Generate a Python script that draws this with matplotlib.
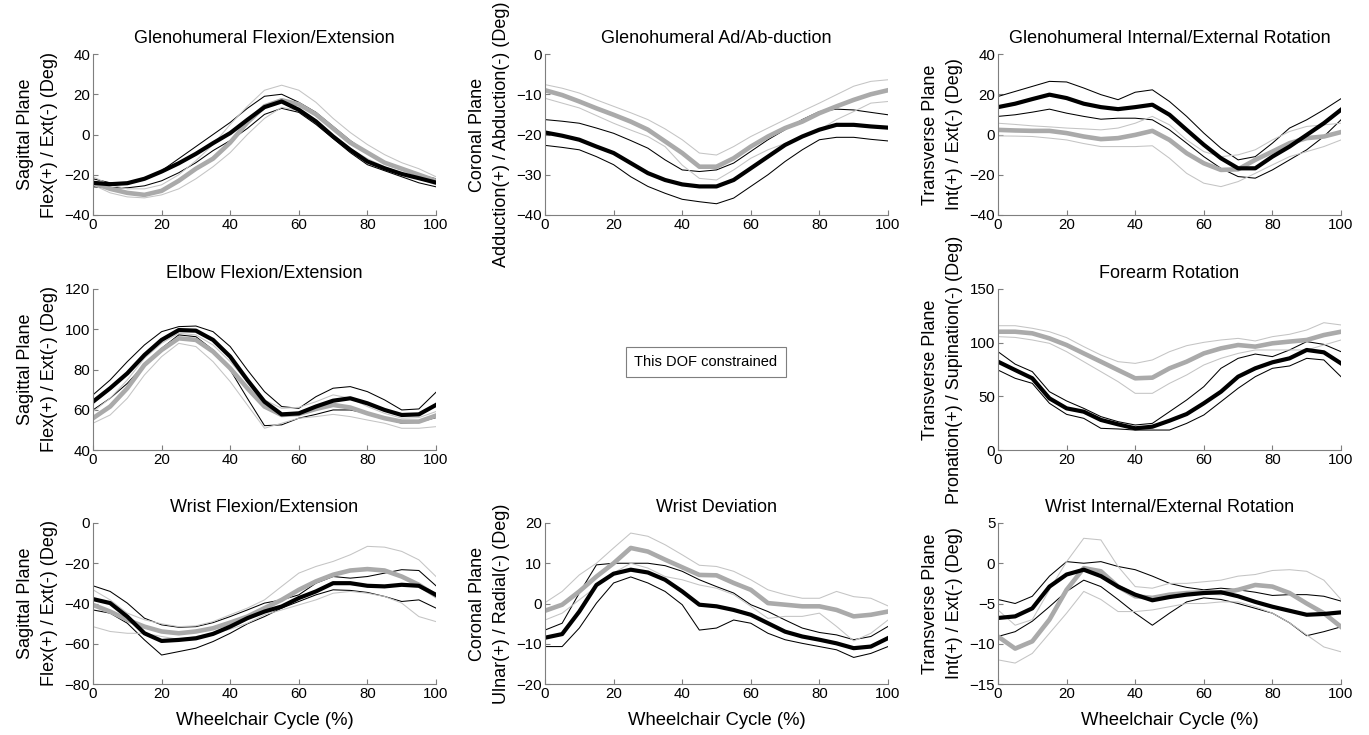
import numpy as np
import matplotlib
matplotlib.use("Agg")
import matplotlib.pyplot as plt

plt.rcParams['font.family'] = ['Liberation Sans', 'DejaVu Sans']

# percent of wheelchair cycle (sample grid)
cycle = [0, 5, 10, 15, 20, 25, 30, 35, 40, 45, 50, 55, 60, 65, 70, 75, 80, 85, 90, 95, 100]

# ---- Glenohumeral Flexion/Extension ----
ghfe_b = [-24, -24.7, -24.2, -22, -18.4, -14.3, -9.6, -4.3, 0.7, 7.3, 13.6, 16.4, 12.3, 6.5, -1, -7.6, -13.4, -16.8, -19.6, -21.7, -23.9]
ghfe_b_hi = [-22, -24, -24, -22, -18, -12, -6, 0, 6, 13, 19, 20, 16, 11, 4, -3, -9, -14, -17, -20, -22]
ghfe_b_lo = [-26, -26.5, -26.5, -25.5, -23, -19, -14, -8, -3, 3, 10, 13, 11, 5, -2, -9, -15, -18, -21, -24, -26]
ghfe_g = [-24, -27, -29, -30, -28, -23, -17, -12, -4, 6, 14, 17, 15, 10, 3, -4, -9, -14, -17, -20, -23]
ghfe_g_hi = [-21, -25, -27, -27, -25, -20, -13, -5, 5, 14, 22, 24.5, 22, 16, 8, 1, -5, -10, -14, -17, -21]
ghfe_g_lo = [-25, -29, -31, -31.5, -30, -27, -22, -16, -9, 0, 8, 13.5, 12, 7, 0, -7, -12, -16, -19, -22, -25]

# ---- Glenohumeral Ad/Ab-duction ----
ghaa_b = [-19.5, -20.3, -21.3, -23, -24.6, -27.1, -29.6, -31.3, -32.4, -32.9, -32.9, -31.3, -28.4, -25.5, -22.6, -20.5, -18.8, -17.6, -17.6, -18, -18.3]
ghaa_b_hi = [-16.3, -16.7, -17.2, -18.4, -19.7, -21.5, -23.4, -26.3, -28.8, -29.2, -28.8, -27.1, -24.2, -21.3, -18.8, -16.3, -14.3, -13.7, -13.9, -14.5, -15.1]
ghaa_b_lo = [-22.7, -23.2, -23.8, -25.5, -27.5, -30.5, -32.9, -34.6, -36.1, -36.7, -37.2, -35.8, -32.9, -30, -26.7, -23.8, -21.3, -20.7, -20.7, -21.2, -21.6]
ghaa_g = [-9, -10.2, -11.8, -13.5, -15.1, -16.8, -18.8, -21.7, -24.6, -28, -28, -25.9, -23, -20.5, -18.4, -16.8, -14.7, -13, -11.4, -10, -9]
ghaa_g_hi = [-7.6, -8.5, -9.7, -11.4, -13, -14.6, -16.3, -18.6, -21.3, -24.6, -25.1, -23, -20.5, -18.4, -16.3, -14.2, -12.2, -10.1, -8, -6.8, -6.4]
ghaa_g_lo = [-11, -12.2, -13.4, -15.3, -17.2, -18.9, -20.5, -23, -27.6, -30.9, -31.3, -28.8, -25.9, -23.8, -22.2, -20.5, -18.8, -16.3, -14.3, -12.2, -11.8]

# ---- Glenohumeral Internal/External Rotation ----
ghie_b = [13.6, 15.3, 17.6, 19.8, 18.1, 15.3, 13.6, 12.6, 13.6, 14.8, 9.8, 2.3, -5.1, -11.8, -16.8, -16.8, -11, -6, -0.2, 5.6, 12.3]
ghie_b_hi = [18.9, 21.4, 23.9, 26.4, 26.1, 23.1, 19.8, 17.3, 21, 22.2, 16.4, 9, 0.7, -6.8, -12.6, -11, -4.3, 3.2, 7.3, 12.3, 17.8]
ghie_b_lo = [9, 9.8, 11.1, 12.6, 10.6, 9, 7.6, 8.1, 8.1, 7.3, 2.3, -4.3, -11, -16.8, -20.9, -21.7, -17.6, -12.6, -7.6, -1, 7.3]
ghie_g = [2.3, 2, 1.8, 1.8, 0.7, -1, -2.3, -1.8, -0.2, 1.8, -2.7, -9.3, -14.3, -17.6, -17.3, -12.6, -8.5, -4.3, -1.8, -1, 1.2]
ghie_g_hi = [5.6, 5, 4.3, 3.8, 3.2, 2.8, 2.3, 3.2, 5.6, 9, 4.8, -2.7, -8.5, -11, -10.1, -7.6, -2.7, 1.5, 4, 4.8, 5.6]
ghie_g_lo = [-0.7, -0.8, -1, -1.8, -2.7, -4.5, -6, -6, -6, -5.6, -11.8, -19.3, -24.2, -25.9, -23.4, -19.3, -15.1, -11, -8.5, -6, -2.7]

# ---- Elbow Flexion/Extension ----
elb_b = [64, 70.7, 78.1, 87.2, 94.7, 99.6, 99.3, 94.7, 86.4, 74.8, 64, 57.7, 58.2, 61.6, 64.5, 65.7, 63.2, 59.9, 57.4, 57.7, 62.4]
elb_b_hi = [67.4, 74.8, 83.9, 92.2, 98.8, 101.3, 101.6, 98.8, 91.4, 79.8, 69, 61.6, 60.7, 66.5, 70.7, 71.5, 69, 64.9, 59.9, 60.4, 68.7]
elb_b_lo = [59.9, 65.7, 73.1, 82.3, 90.5, 97.2, 96.3, 89.7, 79.8, 65.7, 52.1, 52.5, 55.8, 57.7, 59.9, 59.9, 58.2, 55.8, 53.3, 53.8, 56.1]
elb_g = [55.8, 61.6, 70.7, 82.3, 89.7, 95.5, 94.7, 88.9, 80.6, 70.7, 61.6, 57.4, 57.9, 60.4, 62.4, 61.1, 58.2, 55.8, 54.1, 54.1, 57.1]
elb_g_hi = [59.1, 65.7, 74.8, 85.6, 93, 98, 97.2, 92.2, 83.9, 74, 64.9, 60.7, 61.2, 64, 67.4, 65.7, 61.6, 58.2, 55.8, 56.1, 59.1]
elb_g_lo = [53.3, 57.4, 65.7, 77.3, 86.4, 93, 91.4, 83.9, 74, 62.4, 50.8, 53.3, 55.8, 56.6, 57.7, 56.6, 54.9, 53.3, 50.8, 50.8, 51.6]

# ---- Forearm Rotation ----
fr_b = [82.3, 74.5, 66.8, 48.1, 38.8, 35.7, 28, 23.9, 20.2, 21.7, 27.3, 33.5, 43.5, 54.3, 68.3, 76.1, 81.7, 85.4, 93.2, 91, 80.7]
fr_b_hi = [91.6, 80, 73, 54.3, 45.7, 38.8, 31.1, 26.4, 23.3, 24.8, 35.7, 46.6, 59, 76.1, 85.4, 89.4, 87, 93.2, 101, 98.4, 91.6]
fr_b_lo = [74.5, 66.8, 62.1, 43.5, 33.2, 29.5, 20.2, 19.6, 18.6, 18.6, 18.6, 24.8, 32.6, 45, 57.5, 68.3, 76.1, 78.3, 85.4, 83.9, 68.3]
fr_g = [110.2, 110.2, 108.7, 104, 97.8, 90, 82.3, 74.5, 66.8, 67.4, 76.1, 82.3, 90, 94.7, 97.8, 96.3, 99.4, 101, 102.5, 107.1, 110.2]
fr_g_hi = [115.8, 115.8, 113.4, 110.2, 104.7, 96.3, 88.5, 82.3, 80.7, 83.9, 91.6, 97.2, 100.3, 102.5, 104, 101.6, 105.6, 107.8, 111.8, 118.6, 116.5]
fr_g_lo = [105.6, 104.9, 102.5, 99.4, 91.6, 82.3, 73, 63.7, 52.8, 52.8, 62.1, 69.9, 79.2, 85.4, 90, 93.2, 93.2, 93.2, 93.2, 97.8, 102.5]

# ---- Wrist Flexion/Extension ----
wfe_b = [-37.8, -39.8, -46.5, -54.8, -58.6, -58.1, -57.3, -55.1, -51.5, -47.3, -44, -41.5, -37.3, -34, -29.9, -29.9, -31.2, -31.5, -30.7, -31.2, -35.7]
wfe_b_hi = [-31.2, -34, -39.8, -47.3, -50.6, -51.8, -51.5, -49.5, -46.5, -43.2, -39.8, -38.2, -35.7, -29.9, -26.6, -27.4, -26.6, -24.9, -23.2, -23.6, -31.2]
wfe_b_lo = [-43.2, -44.8, -49.8, -58.1, -65.6, -63.9, -62.2, -58.9, -54.8, -50.1, -46.5, -42.3, -39, -35.7, -33.2, -33.5, -34.5, -36.5, -39, -38.2, -42.3]
wfe_g = [-40.7, -44, -48.1, -51.5, -53.9, -54.8, -53.9, -52.3, -49.5, -46.5, -42.3, -38.2, -33.2, -29, -25.7, -23.6, -22.9, -23.6, -26.6, -30.7, -36.2]
wfe_g_hi = [-33.2, -38.2, -44.8, -48.1, -50.1, -51.5, -51.1, -49, -45.6, -42.3, -38.2, -31.5, -24.9, -21.6, -19.1, -15.8, -11.6, -12, -14.1, -18.3, -26.6]
wfe_g_lo = [-51.5, -53.9, -54.8, -54.8, -56.4, -57.8, -56.4, -54.8, -52.8, -49.8, -45.6, -43.2, -40.7, -38.2, -34.9, -34, -34.9, -36.5, -39.8, -46.5, -49]

# ---- Wrist Deviation ----
wd_b = [-8.5, -7.6, -2, 4.6, 7.4, 8.4, 7.7, 5.9, 3, -0.3, -0.7, -1.6, -2.8, -4.9, -7, -8.2, -9, -9.9, -11.1, -10.7, -8.6]
wd_b_hi = [-6.6, -4.9, 2.6, 9.6, 10, 10, 10, 9.4, 8, 5.9, 4.2, 2.6, -0.3, -2, -4.1, -6.1, -7.2, -7.8, -9, -8.2, -5.7]
wd_b_lo = [-10.7, -10.7, -6.1, 0.1, 5.1, 6.6, 5.1, 3, -0.3, -6.6, -6.1, -4.1, -4.9, -7.4, -9, -9.9, -10.7, -11.5, -13.4, -12.4, -10.7]
wd_g = [-1.8, -0.3, 3, 6.7, 10, 13.8, 12.9, 10.9, 9, 7.1, 7, 5.1, 3.4, 0.1, -0.3, -0.7, -0.7, -1.6, -3.2, -2.8, -2]
wd_g_hi = [0.2, 3, 7.1, 10, 13.8, 17.5, 16.7, 14.6, 12.1, 9.5, 9.2, 8, 5.9, 3.4, 2.2, 1.3, 1.3, 3, 1.7, 1.3, -0.6]
wd_g_lo = [-4.1, -2.4, 0.9, 4.2, 7.6, 10, 8.8, 6.7, 5.9, 4.6, 3.8, 2.2, -0.7, -3.7, -3.2, -3.2, -2.4, -5.7, -9.3, -7.4, -4.1]

# ---- Wrist Internal/External Rotation ----
wie_b = [-6.8, -6.6, -5.6, -2.9, -1.4, -0.8, -1.6, -2.9, -3.9, -4.6, -4.2, -3.9, -3.7, -3.6, -4.1, -4.8, -5.4, -5.9, -6.4, -6.3, -6.1]
wie_b_hi = [-4.5, -5, -4.1, -1.6, 0.2, 0, 0.2, -0.4, -0.8, -1.6, -2.5, -3, -3.3, -3.1, -3.3, -3.6, -4, -3.9, -3.9, -4.1, -4.7]
wie_b_lo = [-9.1, -8.5, -7.2, -5.4, -3.5, -2.1, -2.9, -4.5, -6.2, -7.7, -6.2, -4.8, -4.3, -4.5, -5, -5.6, -6.2, -7.4, -9, -8.5, -7.9]
wie_g = [-9.1, -10.6, -9.7, -7, -3.3, -0.6, -1, -2.9, -4.1, -4.3, -3.9, -3.7, -3.6, -3.7, -3.3, -2.7, -2.9, -3.7, -5, -6.2, -7.9]
wie_g_hi = [-5.8, -7.7, -7, -3.3, 0.2, 3.1, 2.9, -0.4, -2.9, -3.1, -2.5, -2.5, -2.3, -2.1, -1.6, -1.4, -0.9, -0.8, -1, -2.1, -4.5]
wie_g_lo = [-12, -12.4, -11.2, -8.7, -6.2, -3.5, -4.5, -6, -6, -5.8, -5.4, -5, -5, -4.8, -4.8, -5.4, -6.2, -7.4, -8.9, -10.4, -11]

titles = ["Glenohumeral Flexion/Extension", "Glenohumeral Ad/Ab-duction",
          "Glenohumeral Internal/External Rotation", "Elbow Flexion/Extension",
          "Forearm Rotation", "Wrist Flexion/Extension", "Wrist Deviation",
          "Wrist Internal/External Rotation"]
ylabels = ["Sagittal Plane\nFlex(+) / Ext(-) (Deg)",
           "Coronal Plane\nAdduction(+) / Abduction(-) (Deg)",
           "Transverse Plane\nInt(+) / Ext(-) (Deg)",
           "Sagittal Plane\nFlex(+) / Ext(-) (Deg)",
           "Transverse Plane\nPronation(+) / Supination(-) (Deg)",
           "Sagittal Plane\nFlex(+) / Ext(-) (Deg)",
           "Coronal Plane\nUlnar(+) / Radial(-) (Deg)",
           "Transverse Plane\nInt(+) / Ext(-) (Deg)"]
yticks = [[-40, -20, 0, 20, 40], [-40, -30, -20, -10, 0], [-40, -20, 0, 20, 40],
          [40, 60, 80, 100, 120], [0, 50, 100, 150], [-80, -60, -40, -20, 0],
          [-20, -10, 0, 10, 20], [-15, -10, -5, 0, 5]]
xticks = [0, 20, 40, 60, 80, 100]
xlabel = "Wheelchair Cycle (%)"
dof_note = "This DOF constrained"

series = [
    (ghfe_b, ghfe_b_hi, ghfe_b_lo, ghfe_g, ghfe_g_hi, ghfe_g_lo),
    (ghaa_b, ghaa_b_hi, ghaa_b_lo, ghaa_g, ghaa_g_hi, ghaa_g_lo),
    (ghie_b, ghie_b_hi, ghie_b_lo, ghie_g, ghie_g_hi, ghie_g_lo),
    (elb_b, elb_b_hi, elb_b_lo, elb_g, elb_g_hi, elb_g_lo),
    (fr_b, fr_b_hi, fr_b_lo, fr_g, fr_g_hi, fr_g_lo),
    (wfe_b, wfe_b_hi, wfe_b_lo, wfe_g, wfe_g_hi, wfe_g_lo),
    (wd_b, wd_b_hi, wd_b_lo, wd_g, wd_g_hi, wd_g_lo),
    (wie_b, wie_b_hi, wie_b_lo, wie_g, wie_g_hi, wie_g_lo),
]

W, H = 1369, 735
fig = plt.figure(figsize=(W / 100, H / 100), dpi=100)

col_x = [93, 545, 998]
row_top = [54, 289, 523]
aw, ah = 343, 161
slots = [(0, 0), (0, 1), (0, 2), (1, 0), (1, 2), (2, 0), (2, 1), (2, 2)]

axis_col = '#7f7f7f'
for i, (r, c) in enumerate(slots):
    x0 = col_x[c] / W
    y0 = 1 - (row_top[r] + ah) / H
    ax = fig.add_axes([x0, y0, aw / W, ah / H])
    b, bh, bl, g, gh, gl = series[i]
    ax.plot(cycle, bh, color='black', lw=0.75)
    ax.plot(cycle, bl, color='black', lw=0.75)
    ax.plot(cycle, gh, color='#c4c4c4', lw=0.75)
    ax.plot(cycle, gl, color='#c4c4c4', lw=0.75)
    ax.plot(cycle, g, color='#aaaaaa', lw=3.3, solid_joinstyle='round')
    ax.plot(cycle, b, color='black', lw=3.0, solid_joinstyle='round')
    ax.set_xlim(0, 100)
    ax.set_ylim(yticks[i][0], yticks[i][-1])
    ax.set_xticks(xticks)
    ax.set_yticks(yticks[i])
    ax.spines['top'].set_visible(False)
    ax.spines['right'].set_visible(False)
    for s in ('left', 'bottom'):
        ax.spines[s].set_color(axis_col)
        ax.spines[s].set_linewidth(0.8)
    ax.tick_params(direction='in', length=3.5, width=0.8, color=axis_col,
                   labelsize=10.8, labelcolor='black', pad=2)
    ax.set_title(titles[i], fontsize=13, pad=8)
    ax.set_ylabel(ylabels[i], fontsize=13, linespacing=1.5, labelpad=5)
    if r == 2:
        ax.set_xlabel(xlabel, fontsize=13.3, labelpad=8)
    ax.set_facecolor('none')

fig.text(706 / W, 1 - 362 / H, dof_note, ha='center', va='center', fontsize=10.5,
         bbox=dict(boxstyle='square,pad=0.55', facecolor='white', edgecolor='#7f7f7f', linewidth=0.8))

fig.savefig('out.png', dpi=100)
